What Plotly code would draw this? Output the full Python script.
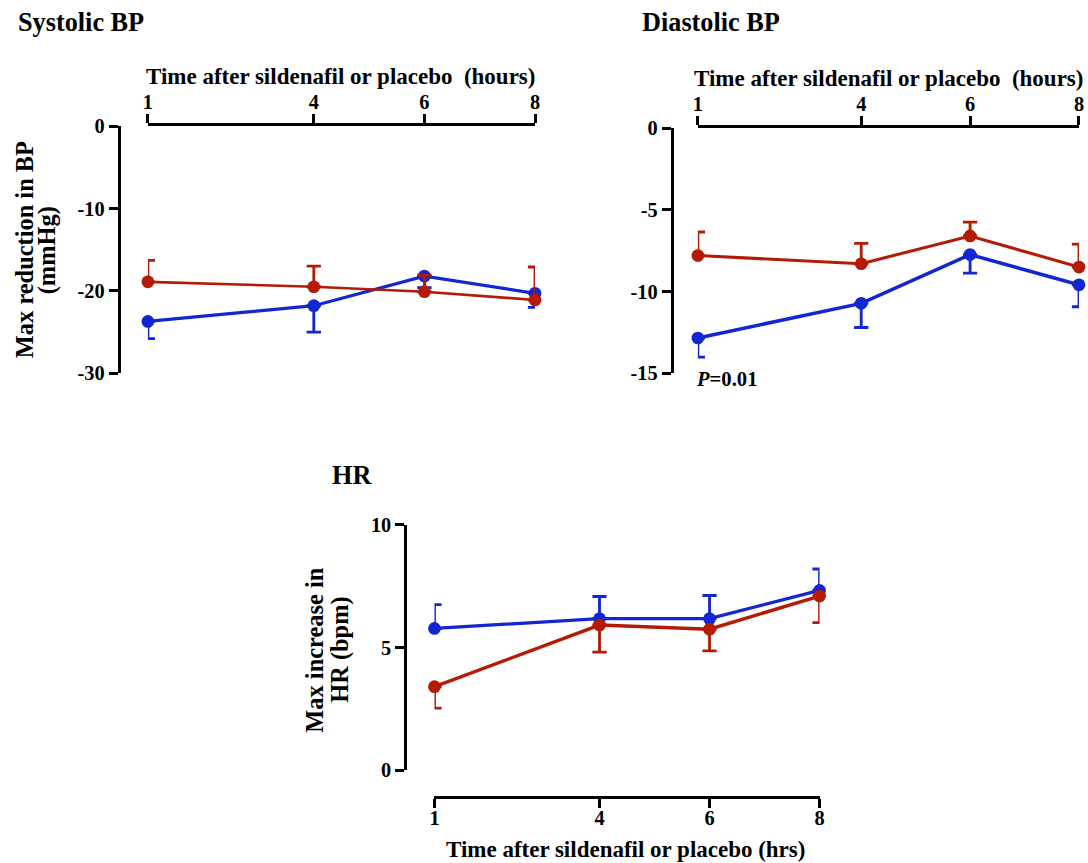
import plotly.graph_objects as go

# Time points (hours after dose)
hours = [1, 4, 6, 8]
hour_labels = ["1", "4", "6", "8"]

# Systolic BP: max reduction (mmHg), mean and SE
sbp_sildenafil = [-23.7, -21.8, -18.2, -20.3]
sbp_sildenafil_se = [2.1, 3.2, 1.4, 1.7]
sbp_placebo = [-18.9, -19.5, -20.1, -21.1]
sbp_placebo_se = [2.6, 2.5, 2.0, 4.0]
sbp_ticks = [0, -10, -20, -30]

# Diastolic BP: max reduction (mmHg), mean and SE
dbp_sildenafil = [-12.84, -10.72, -7.74, -9.59]
dbp_sildenafil_se = [1.17, 1.48, 1.13, 1.34]
dbp_placebo = [-7.8, -8.3, -6.6, -8.5]
dbp_placebo_se = [1.44, 1.25, 0.85, 1.4]
dbp_ticks = [0, -5, -10, -15]

# Heart rate: max increase (bpm), mean and SE
hr_sildenafil = [5.77, 6.17, 6.17, 7.32]
hr_sildenafil_se = [0.97, 0.9, 0.94, 0.87]
hr_placebo = [3.40, 5.91, 5.74, 7.09]
hr_placebo_se = [0.87, 1.1, 0.88, 1.08]
hr_ticks = [0, 5, 10]

# Layout is written in screen pixels of the final view; the page keeps its
# 8px body margin and the view is slightly scaled, so convert here.
PAGE_MARGIN = 8
SX, SY = 0.9855, 0.980
W, H = 1100, 880
BLUE = "#1226D2"
RED = "#B41A04"
FONT = "Liberation Serif, Times New Roman, serif"


def fx(px):
    return (px / SX - PAGE_MARGIN) / W


def fy(py):
    return 1 - (py / SY - PAGE_MARGIN) / H


def sz(v):
    return v / ((SX + SY) / 2)


def series(x, y, se, color, width, up, xa, ya):
    zeros = [0] * len(se)
    return go.Scatter(
        x=x, y=y, mode="lines+markers", xaxis=xa, yaxis=ya,
        line=dict(color=color, width=sz(width)),
        marker=dict(color=color, size=sz(12.5)),
        error_y=dict(type="data", symmetric=False,
                     array=se if up else zeros,
                     arrayminus=zeros if up else se,
                     color=color, thickness=sz(2.8), width=sz(7)),
        cliponaxis=False, showlegend=False, hoverinfo="x+y",
    )


fig = go.Figure()
# Systolic
fig.add_trace(series(hours, sbp_sildenafil, sbp_sildenafil_se, BLUE, 3.2, False, "x", "y"))
fig.add_trace(series(hours, sbp_placebo, sbp_placebo_se, RED, 2.6, True, "x", "y"))
# Diastolic
fig.add_trace(series(hours, dbp_sildenafil, dbp_sildenafil_se, BLUE, 3.4, False, "x2", "y2"))
fig.add_trace(series(hours, dbp_placebo, dbp_placebo_se, RED, 3.0, True, "x2", "y2"))
# Heart rate
fig.add_trace(series(hours, hr_sildenafil, hr_sildenafil_se, BLUE, 3.2, True, "x3", "y3"))
fig.add_trace(series(hours, hr_placebo, hr_placebo_se, RED, 3.4, False, "x3", "y3"))

tickfont = dict(family=FONT, size=sz(20), color="black")
common = dict(showgrid=False, zeroline=False, showline=True, linecolor="black",
              linewidth=sz(2.6), ticks="outside", ticklen=sz(9), tickwidth=sz(2.6),
              tickcolor="black", tickfont=tickfont)


def bold(labels):
    return ["<b>%s</b>" % t for t in labels]


def ticklabels(vals):
    return bold([str(v) for v in vals])


fig.update_layout(
    width=W, height=H, margin=dict(l=0, r=0, t=0, b=0),
    paper_bgcolor="white", plot_bgcolor="white",
    font=dict(family=FONT, color="black"),
    xaxis=dict(domain=[fx(150), fx(535)], range=[1, 8], side="top", anchor="y",
               ticklabelstandoff=-3,
               tickvals=hours, ticktext=bold(hour_labels), **common),
    yaxis=dict(domain=[fy(372), fy(123.5)], range=[-30, 0], anchor="free",
               position=fx(121), tickvals=sbp_ticks,
               ticktext=ticklabels(sbp_ticks), **common),
    xaxis2=dict(domain=[fx(697), fx(1076)], range=[1, 8], side="top", anchor="y2",
                ticklabelstandoff=-3,
                tickvals=hours, ticktext=bold(hour_labels), **common),
    yaxis2=dict(domain=[fy(372), fy(125.5)], range=[-15, 0], anchor="free",
                position=fx(671), tickvals=dbp_ticks,
                ticktext=ticklabels(dbp_ticks), **common),
    xaxis3=dict(domain=[fx(435), fx(818)], range=[1, 8], side="bottom",
                anchor="free", position=fy(798), ticklabelstandoff=-8,
                tickvals=hours, ticktext=bold(hour_labels), **common),
    yaxis3=dict(domain=[fy(771), fy(524)], range=[0, 10], anchor="free",
                position=fx(406), tickvals=hr_ticks,
                ticktext=ticklabels(hr_ticks), **common),
)


def label(text, x, y, size, xanchor="center", angle=0):
    fig.add_annotation(
        text=text, x=fx(x), y=fy(y), xref="paper", yref="paper",
        xanchor=xanchor, yanchor="middle", showarrow=False, textangle=angle,
        font=dict(family=FONT, size=sz(size), color="black"),
    )


label("<b>Systolic BP</b>", 19, 19, 25.8, xanchor="left")
label("<b>Diastolic BP</b>", 639, 19, 25.8, xanchor="left")
label("<b>HR</b>", 331, 475, 25.8, xanchor="left")

label("<b>Time after sildenafil or placebo\u00a0 (hours)</b>", 342, 74, 22.6)
label("<b>Time after sildenafil or placebo\u00a0 (hours)</b>", 887, 76, 22.6)
label("<b>Time after sildenafil or placebo (hrs)</b>", 625, 851, 22.6)

# Rotated two-line axis titles, one annotation per line for tighter spacing
label("<b>Max reduction in BP</b>", 28, 248, 24, angle=-90)
label("<b>(mmHg)</b>", 50, 248, 24, angle=-90)
label("<b>Max increase in</b>", 316, 650, 24, angle=-90)
label("<b>HR (bpm)</b>", 341, 650, 24, angle=-90)

label("<b><i>P</i>=0.01</b>", 693, 378, 20.3, xanchor="left")

fig.write_html("out.html")
